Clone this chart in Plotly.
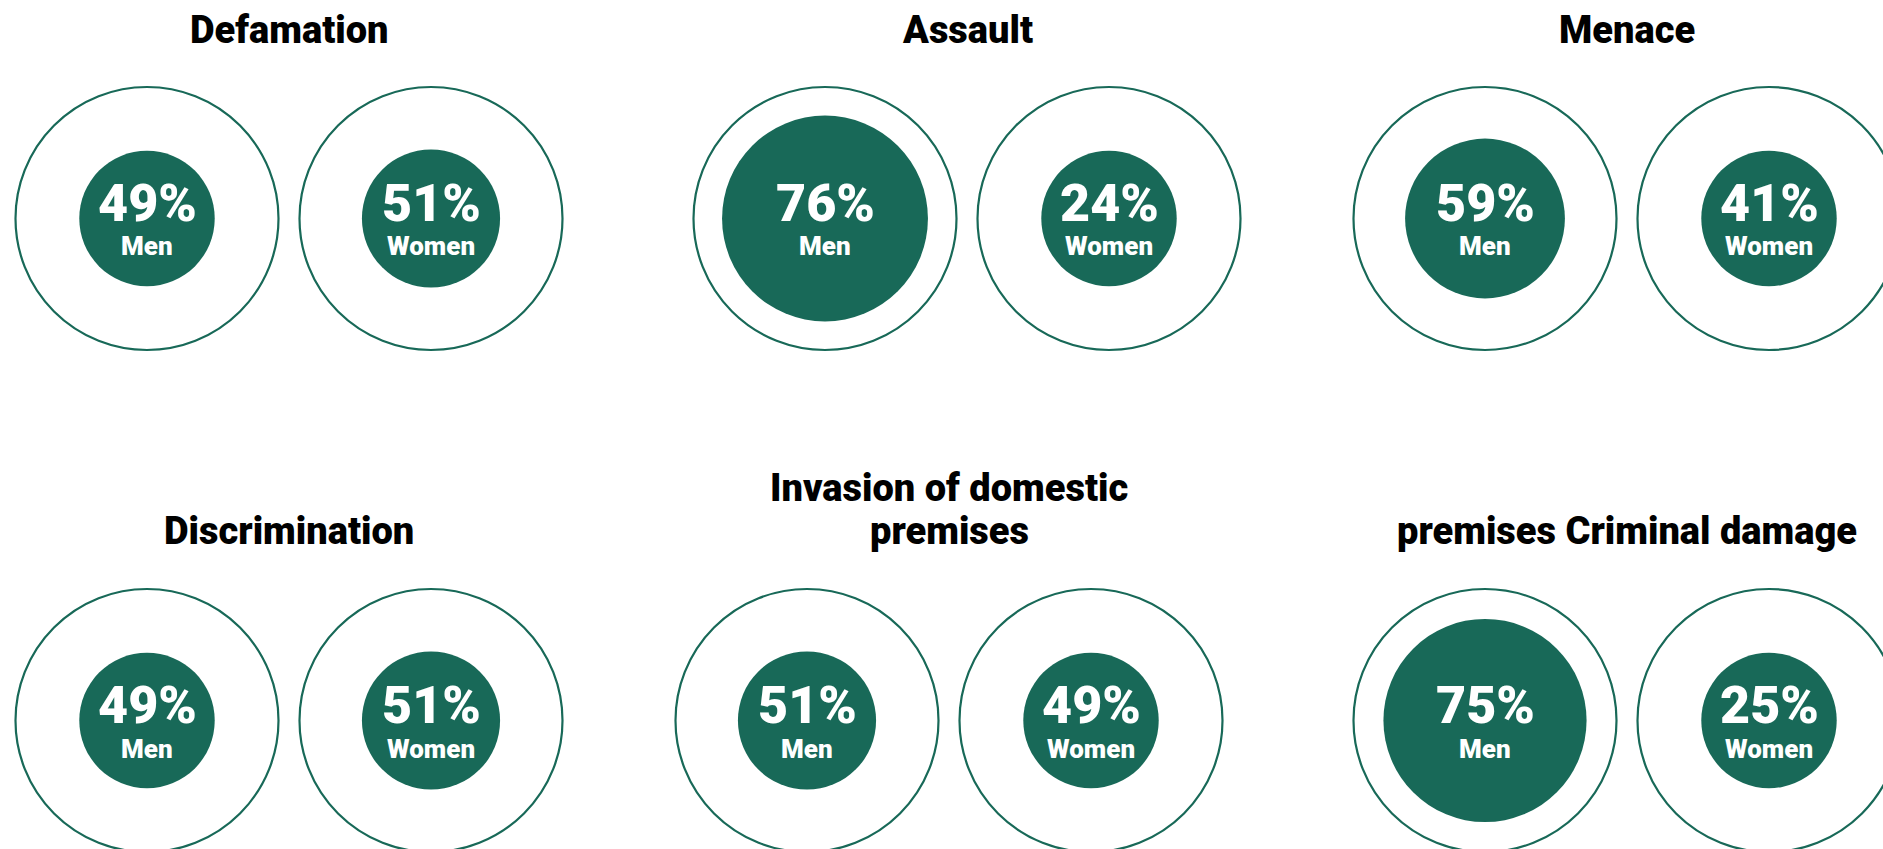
import plotly.graph_objects as go

# ---------------- data ----------------
titles = [
    "Defamation",
    "Assault",
    "Menace",
    "Discrimination",
    "Invasion of domestic<br>premises",
    "premises Criminal damage",
]
groups = ["Men", "Women"]
men = [49, 76, 59, 49, 51, 75]
women = [51, 24, 41, 51, 49, 25]

# ---------------- layout / style ----------------
W, H = 1883, 849
GREEN = "#186958"
FONT = "Roboto"

# pixel centre of the "Men" circle of each panel
panel_cx = [147, 825, 1485, 147, 807, 1485]
panel_cy = [218.5, 218.5, 218.5, 720.5, 720.5, 720.5]
title_cy = [30, 30, 30, 531, 531, 531]   # pixel centre of the last title line
PITCH = 284          # px between the two circle centres
RING_D = 263         # outer ring diameter (px)
LINE_H = 43          # title line spacing (px)


def inner_diameter(v):
    return RING_D * max(v, 50) / 100 * 1.03


fig = go.Figure()
annotations = []
axes = {}

for i, (title, m, w) in enumerate(zip(titles, men, women)):
    n = i + 1
    sfx = "" if n == 1 else str(n)
    xa, ya = "x" + sfx, "y" + sfx
    cx, cy = panel_cx[i], panel_cy[i]
    left = max(0, cx - PITCH / 2)
    right = min(W, cx + 1.5 * PITCH)
    top = max(0, cy - PITCH / 2)
    bottom = min(H, cy + PITCH / 2)
    axes["xaxis" + sfx] = dict(
        domain=[left / W, right / W],
        range=[(left - cx) / PITCH, (right - cx) / PITCH],
        anchor=ya, visible=False, fixedrange=True,
    )
    axes["yaxis" + sfx] = dict(
        domain=[1 - bottom / H, 1 - top / H],
        range=[(cy - bottom) / PITCH, (cy - top) / PITCH],
        anchor=xa, visible=False, fixedrange=True,
    )

    vals = [m, w]
    xs = [0, 1]
    # outer rings
    fig.add_trace(go.Scatter(
        x=xs, y=[0, 0], xaxis=xa, yaxis=ya, mode="markers",
        marker=dict(size=RING_D, color="rgba(0,0,0,0)", opacity=1,
                    line=dict(color=GREEN, width=2.2)),
        hoverinfo="skip", showlegend=False,
    ))
    # inner discs sized by share
    fig.add_trace(go.Scatter(
        x=xs, y=[0, 0], xaxis=xa, yaxis=ya, mode="markers",
        marker=dict(size=[inner_diameter(v) for v in vals], color=GREEN,
                    opacity=1, line=dict(width=0)),
        customdata=[[g, v] for g, v in zip(groups, vals)],
        hovertemplate="%{customdata[0]}: %{customdata[1]}%<extra></extra>",
        showlegend=False,
    ))
    for j in range(2):
        annotations.append(dict(
            x=xs[j], y=0, xref=xa, yref=ya, text=f"{vals[j]}%",
            showarrow=False, yshift=15, xanchor="center", yanchor="middle",
            font=dict(family=FONT, size=52, color="white", weight=900),
        ))
        annotations.append(dict(
            x=xs[j], y=0, xref=xa, yref=ya, text=groups[j],
            showarrow=False, yshift=-28, xanchor="center", yanchor="middle",
            font=dict(family=FONT, size=26, color="white", weight=900),
        ))
    lines = title.split("<br>")
    for k, line in enumerate(reversed(lines)):
        annotations.append(dict(
            x=(cx + PITCH / 2) / W, y=1 - (title_cy[i] - k * LINE_H) / H,
            xref="paper", yref="paper", text=line, showarrow=False,
            xanchor="center", yanchor="middle",
            font=dict(family=FONT, size=38, color="black", weight=900),
        ))

fig.update_layout(
    width=W, height=H,
    margin=dict(l=0, r=0, t=0, b=0),
    paper_bgcolor="white", plot_bgcolor="white",
    showlegend=False,
    annotations=annotations,
    **axes,
)

fig.write_html("out.html", config={"displayModeBar": False})
